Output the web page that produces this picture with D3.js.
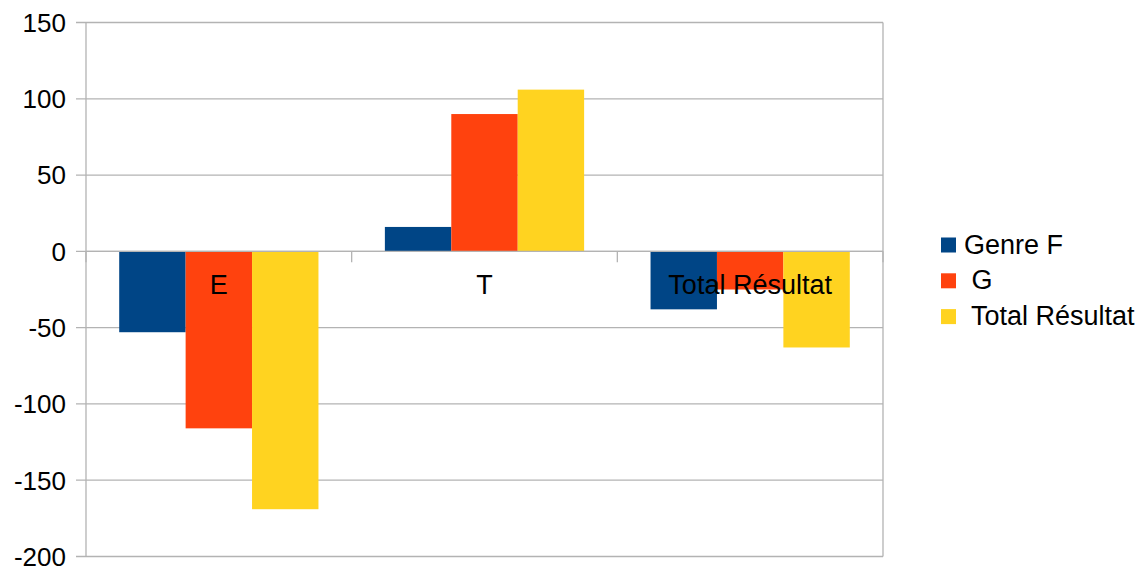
<!DOCTYPE html>
<html>
<head>
<meta charset="utf-8">
<script src="https://cdn.jsdelivr.net/npm/d3@7"></script>
<style>
  html, body { margin: 0; padding: 0; background: #fff; }
  text { font-family: "Liberation Sans", Arial, sans-serif; }
</style>
</head>
<body>
<svg id="chart" width="1142" height="571"></svg>
<script>
const categories = ["E", "T", "Total Résultat"];
const seriesNames = ["Genre F", " G", " Total Résultat"];
const genreF = [-53, 16, -38];
const g = [-116, 90, -25];
const totalResultat = [-169, 106, -63];
const yTicks = [150, 100, 50, 0, -50, -100, -150, -200];

const colors = ["#004586", "#ff420e", "#ffd320"];
const cGrid = "#b3b3b3";
const fontSize = 26;
const labelSize = 27;

const svg = d3.select("#chart");
const plotL = 86, plotR = 883, plotT = 22.5, plotB = 556.5;

const x = d3.scaleBand().domain(categories).range([plotL, plotR]).paddingInner(0).paddingOuter(0);
const y = d3.scaleLinear().domain([-200, 150]).range([plotB, plotT]);
const xs = d3.scaleBand().domain(d3.range(3)).range([0, x.bandwidth()]).paddingOuter(0.5).paddingInner(0);

// grid
svg.append("g").selectAll("line").data(yTicks).join("line")
  .attr("x1", plotL - 10).attr("x2", plotR)
  .attr("y1", d => y(d)).attr("y2", d => y(d))
  .attr("stroke", cGrid).attr("stroke-width", 1.3);

// y labels
svg.append("g").selectAll("text").data(yTicks).join("text")
  .attr("x", 66).attr("y", d => y(d)).attr("dy", "0.36em")
  .attr("text-anchor", "end").attr("font-size", fontSize).attr("fill", "#000")
  .text(d => d);

// plot borders
svg.append("line").attr("x1", plotL).attr("x2", plotL).attr("y1", plotT).attr("y2", plotB)
  .attr("stroke", cGrid).attr("stroke-width", 1.3);
svg.append("line").attr("x1", plotR).attr("x2", plotR).attr("y1", plotT).attr("y2", plotB)
  .attr("stroke", cGrid).attr("stroke-width", 1.3);

// bars
const series = [genreF, g, totalResultat];
series.forEach((vals, si) => {
  svg.append("g").selectAll("rect").data(vals).join("rect")
    .attr("x", (d, i) => x(categories[i]) + xs(si))
    .attr("width", xs.bandwidth())
    .attr("y", d => y(Math.max(0, d)))
    .attr("height", d => Math.abs(y(d) - y(0)))
    .attr("fill", colors[si]);
});

// x axis line and ticks
svg.append("line").attr("x1", plotL).attr("x2", plotR).attr("y1", y(0)).attr("y2", y(0))
  .attr("stroke", cGrid).attr("stroke-width", 1.3);
const tickXs = categories.map(c => x(c)).concat([plotR]);
svg.append("g").selectAll("line").data(tickXs).join("line")
  .attr("x1", d => d).attr("x2", d => d)
  .attr("y1", y(0)).attr("y2", y(0) + 11)
  .attr("stroke", cGrid).attr("stroke-width", 1.3);

// category labels
svg.append("g").selectAll("text").data(categories).join("text")
  .attr("x", d => x(d) + x.bandwidth() / 2).attr("y", 294)
  .attr("text-anchor", "middle").attr("font-size", labelSize).attr("fill", "#000")
  .text(d => d);

// legend
const legend = svg.append("g");
seriesNames.forEach((name, i) => {
  const cy = 245 + i * 35.8;
  legend.append("rect").attr("x", 941).attr("y", cy - 7.5).attr("width", 15).attr("height", 15).attr("fill", colors[i]);
  legend.append("text").attr("x", 964).attr("y", cy + 8.5)
    .attr("font-size", labelSize).attr("fill", "#000")
    .style("white-space", "pre").text(name);
});
</script>
</body>
</html>
